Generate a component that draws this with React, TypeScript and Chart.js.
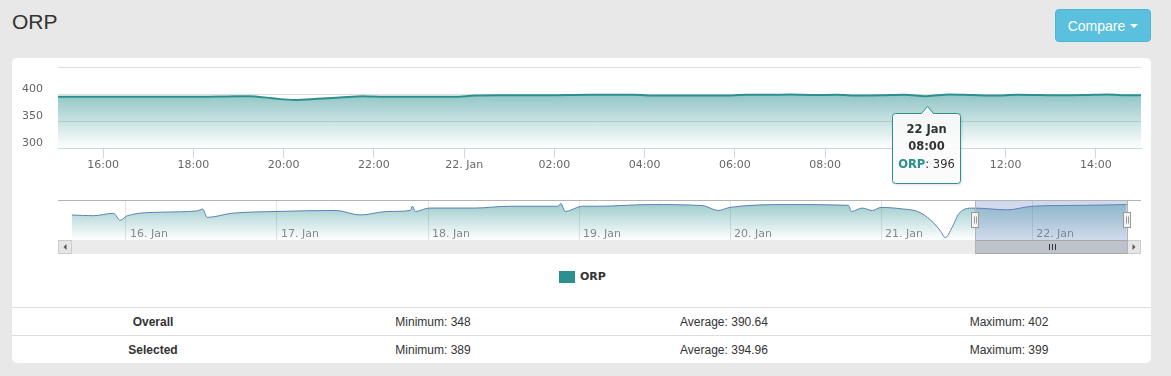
import React, { useEffect, useRef } from 'react';
import { Chart, registerables } from 'chart.js';

Chart.register(...registerables);

// ---------- data ----------
const seriesName = 'ORP';

// hours relative to 21 Jan 00:00
const mainHours = [
  14.75, 15.25, 15.75, 16.25, 16.75, 17.25, 17.75, 18.25, 18.75, 19.25,
  19.75, 20.25, 20.75, 21.25, 21.75, 22.25, 22.75, 23.25, 23.75, 24.25,
  24.75, 25.25, 25.75, 26.25, 26.75, 27.25, 27.75, 28.25, 28.75, 29.25,
  29.75, 30.25, 30.75, 31.25, 31.75, 32.25, 32.75, 33.25, 33.75, 34.25,
  34.75, 35.25, 35.75, 36.25, 36.75, 37.25, 37.75, 38.25, 38.75, 39.25,
];
const mainValues = [
  395, 395, 395, 395, 395, 395, 395, 395, 395.5, 396,
  392, 389, 391, 393.5, 396, 395, 395, 395, 395, 397,
  397.5, 397.5, 397.5, 398, 398.5, 398.5, 398.5, 397, 397, 397,
  397, 398.5, 398.5, 399, 398, 398.5, 397, 397.5, 398.5, 396,
  399, 398, 397, 398.5, 398, 397.5, 398, 399, 397.5, 397.5,
];
const mainTicks = [16, 18, 20, 22, 24, 26, 28, 30, 32, 34, 36, 38];
const mainTickLabels = ['16:00', '18:00', '20:00', '22:00', '22. Jan', '02:00', '04:00', '06:00', '08:00', '10:00', '12:00', '14:00'];
const yTicks = [300, 350, 400, 450];
const yMin = 300;
const yMax = 450;
const selectedRange = [15, 39];

const navHours = [
  -128.6, -125.2, -122, -120.9, -119.8, -114.3, -108.7, -107.8, -107.1, -103.2,
  -96, -86.6, -82.8, -78.4, -74.8, -74.5, -74, -71.8, -64.6, -59.1,
  -51.3, -50.9, -50.2, -47.5, -45, -36.7, -28.4, -25.9, -24, -14.6,
  -5.2, -4.7, -3, -1.4, 0, 3.6, 5.8, 7.9, 9.4, 10.2,
  11.3, 12.4, 14.6, 20.1, 24, 32.3, 39,
];
const navValues = [
  381.7, 380.6, 384.2, 373.9, 380.6, 385.9, 387.8, 390.5, 378.1, 384.2,
  386.9, 388.4, 381.7, 386.9, 388.4, 394.7, 386.9, 392, 392, 394.7,
  394.7, 398.8, 386.9, 394.7, 394.7, 397.2, 395.7, 388.4, 393, 397.2,
  396.1, 386.9, 392, 388.4, 393, 390.5, 386.9, 373.9, 358.4, 348,
  363.5, 384.2, 392, 389.4, 394.7, 396.1, 397.2,
];
const navRange = [-130.8, 41.3];
const navYRange = [344.5, 404];
const navTicks = [-120, -96, -72, -48, -24, 0, 24];
const navTickLabels = ['16. Jan', '17. Jan', '18. Jan', '19. Jan', '20. Jan', '21. Jan', '22. Jan'];

const tooltipIndex = 39;
const tooltipTitle = ['22 Jan', '08:00'];

const statLabels = ['Overall', 'Selected'];
const statMin = [348, 389];
const statAvg = ['390.64', '394.96'];
const statMax = [402, 399];

// ---------- styles ----------
const TEAL = '#2b908f';
const FONT = '"DejaVu Sans", sans-serif';

const tooltipPlugin = {
  id: 'fixedTooltip',
  afterDraw(chart: any) {
    const el = chart.getDatasetMeta(0).data[tooltipIndex];
    if (!el) return;
    const ctx = chart.ctx;
    const px = Math.round(el.x) + 0.5;
    const py = el.y;
    const w = 68;
    const h = 70;
    const left = Math.round(px - w / 2 - 2) + 0.5;
    const top = Math.round(py + 17) + 0.5;
    const tipY = Math.round(py + 10) + 0.5;
    const r = 3;
    ctx.save();
    ctx.beginPath();
    ctx.moveTo(left + r, top);
    ctx.lineTo(px - 6, top);
    ctx.lineTo(px, tipY);
    ctx.lineTo(px + 6, top);
    ctx.lineTo(left + w - r, top);
    ctx.arcTo(left + w, top, left + w, top + r, r);
    ctx.lineTo(left + w, top + h - r);
    ctx.arcTo(left + w, top + h, left + w - r, top + h, r);
    ctx.lineTo(left + r, top + h);
    ctx.arcTo(left, top + h, left, top + h - r, r);
    ctx.lineTo(left, top + r);
    ctx.arcTo(left, top, left + r, top, r);
    ctx.closePath();
    ctx.shadowColor = 'rgba(0,0,0,0.18)';
    ctx.shadowOffsetX = 1;
    ctx.shadowOffsetY = 1;
    ctx.shadowBlur = 3;
    ctx.fillStyle = 'rgba(255,255,255,0.9)';
    ctx.fill();
    ctx.shadowColor = 'transparent';
    ctx.strokeStyle = TEAL;
    ctx.lineWidth = 1;
    ctx.stroke();

    const cx = left + w / 2;
    ctx.textBaseline = 'middle';
    ctx.textAlign = 'center';
    ctx.fillStyle = '#333';
    ctx.font = `bold 11.5px ${FONT}`;
    ctx.fillText(tooltipTitle[0], cx, top + 17);
    ctx.fillText(tooltipTitle[1], cx, top + 34);
    const nameTxt = seriesName;
    const valTxt = ': ' + mainValues[tooltipIndex];
    ctx.font = `bold 11.5px ${FONT}`;
    const w1 = ctx.measureText(nameTxt).width;
    ctx.font = `11.5px ${FONT}`;
    const w2 = ctx.measureText(valTxt).width;
    const sx = cx - (w1 + w2) / 2;
    ctx.textAlign = 'left';
    ctx.font = `bold 11.5px ${FONT}`;
    ctx.fillStyle = TEAL;
    ctx.fillText(nameTxt, sx, top + 52);
    ctx.font = `11.5px ${FONT}`;
    ctx.fillStyle = '#333';
    ctx.fillText(valTxt, sx + w1, top + 52);
    ctx.restore();
  },
};

const navigatorPlugin = {
  id: 'navigatorDecor',
  afterDraw(chart: any) {
    const ctx = chart.ctx;
    const area = chart.chartArea;
    const xs = chart.scales.x;
    ctx.save();
    // day labels
    ctx.font = `11px ${FONT}`;
    ctx.fillStyle = '#888';
    ctx.textAlign = 'left';
    ctx.textBaseline = 'alphabetic';
    navTicks.forEach((t, i) => {
      const x = xs.getPixelForValue(t);
      ctx.fillText(navTickLabels[i], x + 4, area.bottom - 3);
    });
    const x0 = Math.round(xs.getPixelForValue(selectedRange[0])) + 0.5;
    const x1 = Math.round(xs.getPixelForValue(selectedRange[1])) + 0.5;
    // mask
    ctx.fillStyle = 'rgba(102,133,194,0.3)';
    ctx.fillRect(x0, area.top, x1 - x0, area.bottom - area.top);
    // scrollbar track
    const sbTop = area.bottom;
    const sbH = 14;
    ctx.fillStyle = '#ebebeb';
    ctx.fillRect(area.left, sbTop, area.right - area.left, sbH);
    // buttons
    const btn = (bx: number, dir: number) => {
      ctx.fillStyle = '#e6e6e6';
      ctx.fillRect(bx, sbTop, 14, sbH);
      ctx.strokeStyle = '#cccccc';
      ctx.lineWidth = 1;
      ctx.strokeRect(bx + 0.5, sbTop + 0.5, 13, sbH - 1);
      ctx.fillStyle = '#555';
      ctx.beginPath();
      const cx = bx + 7;
      const cy = sbTop + 7;
      ctx.moveTo(cx - 1.5 * dir, cy);
      ctx.lineTo(cx + 1.5 * dir, cy - 3);
      ctx.lineTo(cx + 1.5 * dir, cy + 3);
      ctx.closePath();
      ctx.fill();
    };
    btn(area.left, 1);
    btn(area.right - 14, -1);
    // thumb
    ctx.fillStyle = '#bcc3cb';
    ctx.fillRect(x0, sbTop, x1 - x0, sbH);
    ctx.strokeStyle = '#a9a9a9';
    ctx.strokeRect(x0, sbTop + 0.5, x1 - x0, sbH - 1);
    ctx.strokeStyle = '#333';
    const mid = Math.round((x0 + x1) / 2) + 0.5;
    [-3, 0, 3].forEach((d) => {
      ctx.beginPath();
      ctx.moveTo(mid + d, sbTop + 4);
      ctx.lineTo(mid + d, sbTop + 10);
      ctx.stroke();
    });
    // outline
    ctx.strokeStyle = '#b3b3b3';
    ctx.lineWidth = 1;
    ctx.beginPath();
    ctx.moveTo(area.left, area.top + 0.5);
    ctx.lineTo(area.right, area.top + 0.5);
    ctx.moveTo(x0, area.top);
    ctx.lineTo(x0, sbTop + sbH);
    ctx.moveTo(x1, area.top);
    ctx.lineTo(x1, sbTop + sbH);
    ctx.stroke();
    // handles
    const handle = (hx: number) => {
      const hy = area.top + 12.5;
      ctx.fillStyle = '#f2f2f2';
      ctx.fillRect(hx - 4, hy, 7, 15);
      ctx.strokeStyle = '#999';
      ctx.strokeRect(hx - 4, hy, 7, 15);
      ctx.beginPath();
      ctx.moveTo(hx - 1, hy + 4);
      ctx.lineTo(hx - 1, hy + 11);
      ctx.moveTo(hx + 1, hy + 4);
      ctx.lineTo(hx + 1, hy + 11);
      ctx.stroke();
    };
    handle(x0);
    handle(x1);
    ctx.restore();
  },
};

function gradientFill(a0: number, a1: number) {
  return (c: any) => {
    const chart = c.chart;
    const area = chart.chartArea;
    if (!area) return `rgba(43,144,143,${a0})`;
    const g = chart.ctx.createLinearGradient(0, area.top, 0, area.bottom);
    g.addColorStop(0, `rgba(43,144,143,${a0})`);
    g.addColorStop(1, `rgba(43,144,143,${a1})`);
    return g;
  };
}

export default function App() {
  const mainRef = useRef<HTMLCanvasElement>(null);
  const navRef = useRef<HTMLCanvasElement>(null);

  useEffect(() => {
    Chart.defaults.font.family = FONT;
    Chart.defaults.font.size = 11;
    const main = new Chart(mainRef.current as HTMLCanvasElement, {
      type: 'line',
      data: {
        datasets: [
          {
            label: seriesName,
            data: mainHours.map((h, i) => ({ x: h, y: mainValues[i] })),
            borderColor: TEAL,
            borderWidth: 2,
            pointRadius: 0,
            fill: 'start',
            backgroundColor: gradientFill(0.78, 0.0),
            cubicInterpolationMode: 'monotone',
          },
        ],
      },
      options: {
        animation: false,
        responsive: false,
        maintainAspectRatio: false,
        events: [],
        layout: { padding: { top: 9, right: 10, left: 0, bottom: 0 } },
        plugins: { legend: { display: false }, tooltip: { enabled: false } },
        scales: {
          x: {
            type: 'linear',
            min: selectedRange[0],
            max: selectedRange[1],
            afterBuildTicks: (s: any) => {
              s.ticks = mainTicks.map((v) => ({ value: v }));
            },
            afterFit: (s: any) => {
              s.height = 42;
              s.paddingLeft = 0;
              s.paddingRight = 0;
            },
            ticks: {
              callback: (_v: any, i: number) => mainTickLabels[i],
              color: '#666',
              padding: 1,
              maxRotation: 0,
              autoSkip: false,
            },
            grid: { drawOnChartArea: false, color: '#ccd6eb', tickLength: 10 },
            border: { color: '#ccd6eb' },
          },
          y: {
            min: yMin,
            max: yMax,
            afterBuildTicks: (s: any) => {
              s.ticks = yTicks.map((v) => ({ value: v }));
            },
            afterFit: (s: any) => {
              s.width = 46;
              s.paddingTop = 0;
              s.paddingBottom = 0;
            },
            ticks: {
              callback: (v: any) => (v === yMax ? '' : String(v)),
              color: '#666',
              padding: 15,
              labelOffset: -5,
            },
            grid: { color: '#dedede', drawTicks: false },
            border: { display: false },
          },
        },
      } as any,
      plugins: [tooltipPlugin],
    });

    const nav = new Chart(navRef.current as HTMLCanvasElement, {
      type: 'line',
      data: {
        datasets: [
          {
            label: seriesName,
            data: navHours.map((h, i) => ({ x: h, y: navValues[i] })),
            borderColor: '#5a82b4',
            borderWidth: 1,
            pointRadius: 0,
            fill: 'start',
            backgroundColor: gradientFill(0.5, 0.0),
            cubicInterpolationMode: 'monotone',
          },
        ],
      },
      options: {
        animation: false,
        responsive: false,
        maintainAspectRatio: false,
        events: [],
        layout: { padding: { top: 4, right: 10, left: 46, bottom: 16 } },
        plugins: { legend: { display: false }, tooltip: { enabled: false } },
        scales: {
          x: {
            type: 'linear',
            min: navRange[0],
            max: navRange[1],
            afterBuildTicks: (s: any) => {
              s.ticks = navTicks.map((v) => ({ value: v }));
            },
            afterFit: (s: any) => {
              s.height = 0;
              s.paddingLeft = 0;
              s.paddingRight = 0;
            },
            ticks: { display: false },
            grid: { color: '#e3e3e3', drawTicks: false },
            border: { display: false },
          },
          y: { display: false, min: navYRange[0], max: navYRange[1] },
        },
      } as any,
      plugins: [navigatorPlugin],
    });

    return () => {
      main.destroy();
      nav.destroy();
    };
  }, []);

  const cellBase: React.CSSProperties = {
    position: 'absolute',
    width: 240,
    height: 28,
    lineHeight: '28px',
    textAlign: 'center',
    fontSize: 12,
    color: '#333',
  };
  const cols = [153, 433, 724, 1009];

  return (
    <div
      style={{
        position: 'fixed',
        left: 0,
        top: 0,
        width: 1171,
        height: 376,
        background: '#e8e8e8',
        fontFamily: '"Liberation Sans", Arial, sans-serif',
        overflow: 'hidden',
      }}
    >
      <div style={{ position: 'absolute', left: 12, top: 10, fontSize: 21, lineHeight: '24px', color: '#333' }}>ORP</div>
      <div
        style={{
          position: 'absolute',
          left: 1055,
          top: 9,
          width: 96,
          height: 33,
          boxSizing: 'border-box',
          background: '#5bc0de',
          border: '1px solid #46b8da',
          borderRadius: 4,
          color: '#fff',
          fontSize: 14,
          display: 'flex',
          alignItems: 'center',
          justifyContent: 'center',
        }}
      >
        <span>Compare</span>
        <span
          style={{
            display: 'inline-block',
            marginLeft: 5,
            width: 0,
            height: 0,
            borderLeft: '4px solid transparent',
            borderRight: '4px solid transparent',
            borderTop: '4px solid #fff',
          }}
        />
      </div>
      <div style={{ position: 'absolute', left: 12, top: 58, width: 1139, height: 305, background: '#fff', borderRadius: 5 }} />
      <canvas ref={mainRef} width={1139} height={132} style={{ position: 'absolute', left: 12, top: 58, width: 1139, height: 132 }} />
      <canvas ref={navRef} width={1139} height={60} style={{ position: 'absolute', left: 12, top: 196, width: 1139, height: 60 }} />
      <div style={{ position: 'absolute', left: 559, top: 271, width: 16, height: 12, background: TEAL }} />
      <div
        style={{
          position: 'absolute',
          left: 580,
          top: 269,
          lineHeight: '16px',
          fontFamily: FONT,
          fontWeight: 'bold',
          fontSize: 11,
          color: '#333',
        }}
      >
        {seriesName}
      </div>
      <div style={{ position: 'absolute', left: 12, top: 307, width: 1139, height: 1, background: '#dddddd' }} />
      <div style={{ position: 'absolute', left: 12, top: 335, width: 1139, height: 1, background: '#dddddd' }} />
      {statLabels.map((lab, r) => {
        const top = 308 + r * 28;
        return (
          <React.Fragment key={lab}>
            <div style={{ ...cellBase, top, left: cols[0] - 120, fontWeight: 'bold' }}>{lab}</div>
            <div style={{ ...cellBase, top, left: cols[1] - 120 }}>{'Minimum: ' + statMin[r]}</div>
            <div style={{ ...cellBase, top, left: cols[2] - 120 }}>{'Average: ' + statAvg[r]}</div>
            <div style={{ ...cellBase, top, left: cols[3] - 120 }}>{'Maximum: ' + statMax[r]}</div>
          </React.Fragment>
        );
      })}
    </div>
  );
}
